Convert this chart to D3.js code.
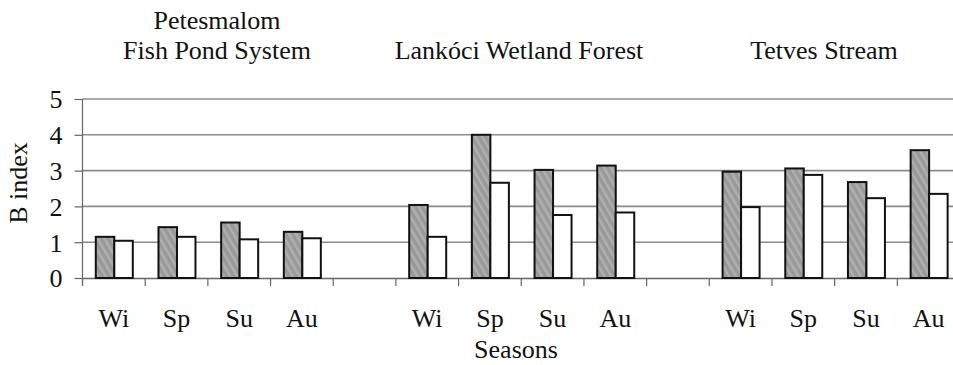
<!DOCTYPE html>
<html><head><meta charset="utf-8">
<script src="https://cdn.jsdelivr.net/npm/d3@7"></script>
<style>body{margin:0;background:#fff}svg{display:block}text{font-family:"Liberation Serif","Times New Roman",serif;fill:#111}</style>
</head><body><svg id="c" width="953" height="365"></svg>
<script>
const categories = ["Wi","Sp","Su","Au","","Wi","Sp","Su","Au","","Wi","Sp","Su","Au"];
const seriesA = [1.15,1.42,1.55,1.29,null,2.04,4.0,3.02,3.14,null,2.97,3.06,2.68,3.57];
const seriesB = [1.04,1.15,1.08,1.11,null,1.15,2.66,1.76,1.83,null,1.98,2.88,2.23,2.35];
const yTicks = [0,1,2,3,4,5];
const siteNames = [["Petesmalom","Fish Pond System"],["Lankóci Wetland Forest"],["Tetves Stream"]];
const siteTitleX = [217,519,824];

const svg = d3.select("#c");
const pL = 82.5, pR = 960, pT = 99, pB = 278;
const FS = 26;
const idx = d3.range(categories.length);
const x = d3.scaleBand().domain(idx).range([pL, pR]).padding(0);
const y = d3.scaleLinear().domain([0,5]).range([pB, pT]);

const defs = svg.append("defs");
const pat = defs.append("pattern").attr("id","hatch").attr("patternUnits","userSpaceOnUse")
  .attr("width",6).attr("height",6).attr("patternTransform","rotate(-30)");
pat.append("rect").attr("width",6).attr("height",6).attr("fill","#999999");
pat.append("rect").attr("width",2.5).attr("height",6).attr("fill","#afafaf");

// gridlines
svg.append("g").selectAll("line").data(yTicks.filter(d=>d>0)).join("line")
  .attr("x1",pL).attr("x2",953).attr("y1",d=>y(d)).attr("y2",d=>y(d))
  .attr("stroke","#8c8c8c").attr("stroke-width",1.6);

// y axis
const ya = svg.append("g").attr("transform",`translate(${pL},0)`)
  .call(d3.axisLeft(y).tickValues(yTicks).tickSize(8).tickPadding(12).tickFormat(d3.format("d")));
ya.select(".domain").remove();
ya.selectAll(".tick line").attr("stroke","#666").attr("stroke-width",1.2);
ya.selectAll("text").attr("font-size",FS).style("font-family","Liberation Serif").attr("dy","0.34em");
svg.append("line").attr("x1",pL).attr("x2",pL).attr("y1",pT).attr("y2",pB+8)
  .attr("stroke","#666").attr("stroke-width",1.2);

// x axis
const xa = svg.append("g").attr("transform",`translate(0,${pB})`)
  .call(d3.axisBottom(x).tickSize(0).tickFormat(i=>categories[i]));
xa.select(".domain").attr("stroke","#666").attr("stroke-width",1.4);
xa.selectAll("text").attr("font-size",FS).style("font-family","Liberation Serif").attr("y",49).attr("dy",0);
svg.append("g").selectAll("line").data(d3.range(categories.length+1)).join("line")
  .attr("x1",i=>pL+i*x.bandwidth()).attr("x2",i=>pL+i*x.bandwidth())
  .attr("y1",pB).attr("y2",pB+8).attr("stroke","#666").attr("stroke-width",1.2);

// bars
const bw = 18.5, off = 13.3;
const g = svg.append("g");
g.selectAll("rect.a").data(idx.filter(i=>seriesA[i]!=null)).join("rect").attr("class","a")
  .attr("x",i=>x(i)+off).attr("width",bw).attr("y",i=>y(seriesA[i])).attr("height",i=>pB-y(seriesA[i]))
  .attr("fill","url(#hatch)").attr("stroke","#111").attr("stroke-width",2);
g.selectAll("rect.b").data(idx.filter(i=>seriesB[i]!=null)).join("rect").attr("class","b")
  .attr("x",i=>x(i)+off+bw).attr("width",bw).attr("y",i=>y(seriesB[i])).attr("height",i=>pB-y(seriesB[i]))
  .attr("fill","#fff").attr("stroke","#111").attr("stroke-width",2);

// titles
siteNames.forEach((lines,k)=>{
  lines.forEach((t,j)=>{
    svg.append("text").attr("x",siteTitleX[k]).attr("y",59 - (lines.length-1-j)*30.5)
      .attr("text-anchor","middle").attr("font-size",FS).text(t);
  });
});

svg.append("text").attr("x",516).attr("y",358).attr("text-anchor","middle").attr("font-size",FS).text("Seasons");
svg.append("text").attr("transform",`translate(27,183) rotate(-90)`).attr("text-anchor","middle").attr("font-size",FS).text("B index");
</script></body></html>
